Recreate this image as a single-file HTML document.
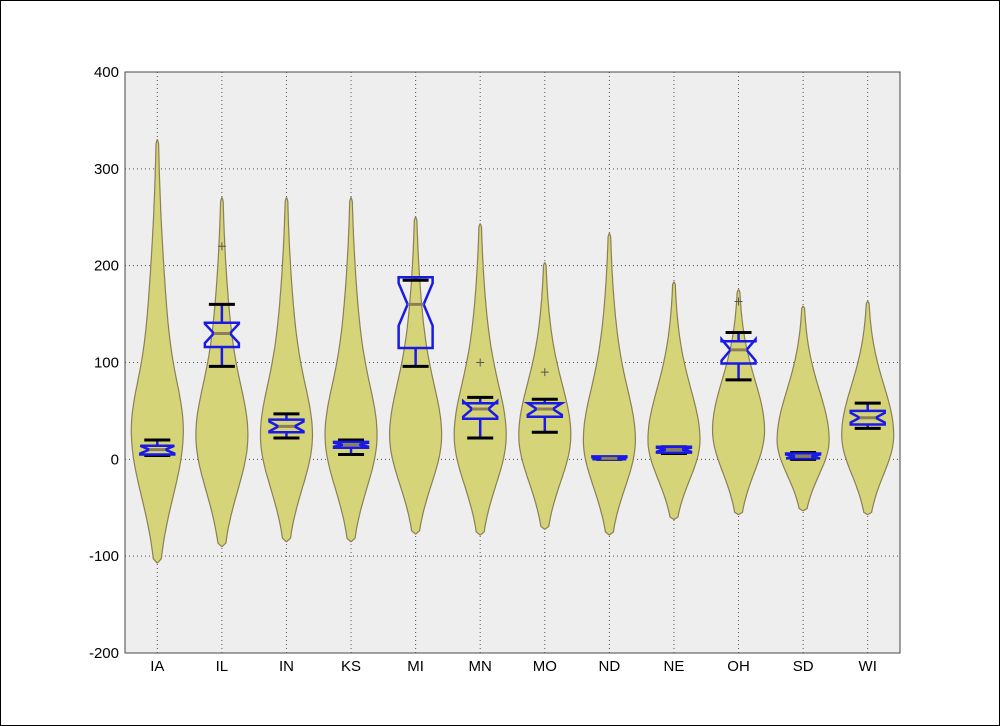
<!DOCTYPE html>
<html><head><meta charset="utf-8"><style>
body{margin:0;background:#fff;}
svg{display:block;font-family:"Liberation Sans",sans-serif;}
</style></head><body>
<svg id="chart" width="1000" height="726" viewBox="0 0 1000 726">
<rect x="0.5" y="0.5" width="999" height="725" fill="#fff" stroke="#000"/>
<rect x="125" y="72" width="775" height="581" fill="#eeeeee" stroke="#444" stroke-width="1"/>
<g id="grid"></g><g id="violins"></g><g id="boxes"></g><g id="axes"></g>
</svg>
<script>
const categories=["IA","IL","IN","KS","MI","MN","MO","ND","NE","OH","SD","WI"];
const vMin=[-107,-90,-85,-85,-77,-78,-72,-78,-62,-57,-53,-57];
const vMax=[330,270,270,270,250,243,203,233,183,175,158,163];
const vMode=[30,25,25,25,25,25,25,20,20,30,20,25];
const q1=[5,116,28,12,115,42,44,0,7,99,1,36];
const med=[10,130,34,15,160,52,52,1,10,113,3,43];
const q3=[14,141,41,18,188,58,58,3,13,122,6,50];
const notchLo=[6,120,29,13,138,44,46,0,8,102,1,38];
const notchHi=[14,140,39,17,182,60,58,2,12,124,5,48];
const whisLo=[4,96,22,5,96,22,28,0,6,82,0,32];
const whisHi=[20,160,47,20,185,64,62,2,13,131,7,58];
const fliers=[[],[220],[],[],[],[100],[90],[],[],[163],[],[]];
const yTicks=[-200,-100,0,100,200,300,400];

const NS="http://www.w3.org/2000/svg";
const L=125,R=900,T=72,B=653,ymin=-200,ymax=400;
const xs=i=>L+(i+0.5)*(R-L)/categories.length;
const ys=v=>B-(v-ymin)/(ymax-ymin)*(B-T);
function mk(tag,attrs,parent){const e=document.createElementNS(NS,tag);for(const k in attrs)e.setAttribute(k,attrs[k]);parent.appendChild(e);return e;}
const grid=document.getElementById('grid'),vg=document.getElementById('violins'),bg=document.getElementById('boxes'),ax=document.getElementById('axes');
yTicks.forEach(t=>{
  const g=mk('line',{x1:L,x2:R,y1:ys(t),y2:ys(t),stroke:'#555',"stroke-width":1,"stroke-dasharray":"1,3"},grid);
  
  
  const tx=mk('text',{x:L-6,y:ys(t)+5,"text-anchor":"end","font-size":15,fill:"#000"},ax);
  tx.textContent=t;
  
  
});
const W=26;
categories.forEach((c,i)=>{
  const x=xs(i);
  const gl=mk('line',{x1:x,x2:x,y1:T,y2:B,stroke:'#555',"stroke-width":1,"stroke-dasharray":"1,3"},grid);
  
  
  const sU=(vMax[i]-vMode[i])*0.45, sL=(vMode[i]-vMin[i])/2;
  const hw=v=>{const d=v-vMode[i];
    if(d<0) return W*Math.exp(-d*d/(2*sL*sL));
    return W*(0.45*Math.exp(-d*d/(2*45*45))+0.55*Math.exp(-d*d/(2*sU*sU)));};
  const N=100,pr=[],pl=[];
  for(let k=0;k<=N;k++){const v=vMin[i]+(vMax[i]-vMin[i])*k/N;const w=(k==0||k==N)?0.3:hw(v);
    pr.push((x+w).toFixed(1)+","+ys(v).toFixed(1));pl.unshift((x-w).toFixed(1)+","+ys(v).toFixed(1));}
  const vp=mk('polygon',{points:pr.concat(pl).join(" "),fill:"#d6d479",stroke:"#8a8055","stroke-width":1.2},vg);
  
  
  const g=mk('g',{},bg);
  
  
  mk('line',{x1:x,x2:x,y1:ys(whisLo[i]),y2:ys(q1[i]),stroke:"#1a1ae6","stroke-width":2.5},g);
  mk('line',{x1:x,x2:x,y1:ys(whisHi[i]),y2:ys(q3[i]),stroke:"#1a1ae6","stroke-width":2.5},g);
  [whisLo[i],whisHi[i]].forEach(v=>mk('line',{x1:x-13,x2:x+13,y1:ys(v),y2:ys(v),stroke:"#000","stroke-width":3},g));
  const bw=17,nw=8;
  const pts=[[x-bw,q1[i]],[x-bw,notchLo[i]],[x-nw,med[i]],[x-bw,notchHi[i]],[x-bw,q3[i]],[x+bw,q3[i]],[x+bw,notchHi[i]],[x+nw,med[i]],[x+bw,notchLo[i]],[x+bw,q1[i]]];
  mk('polygon',{points:pts.map(p=>p[0]+","+ys(p[1]).toFixed(1)).join(" "),fill:"none",stroke:"#1a1ae6","stroke-width":2.5},g);
  mk('line',{x1:x-nw,x2:x+nw,y1:ys(med[i]),y2:ys(med[i]),stroke:"#8a7f5a","stroke-width":3},g);
  fliers[i].forEach(v=>{const f=mk('path',{d:`M${x-4},${ys(v)}h8M${x},${ys(v)-4}v8`,stroke:"#555","stroke-width":1},g);
    
    });
  const tx=mk('text',{x:x,y:B+18,"text-anchor":"middle","font-size":15,fill:"#000"},ax);
  tx.textContent=c;
  
  
});
</script>
</body></html>
